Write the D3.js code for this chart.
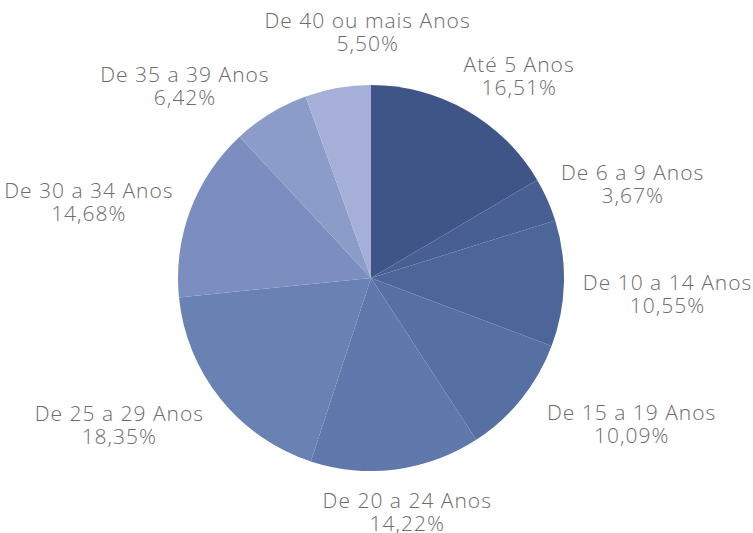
<!DOCTYPE html>
<html>
<head>
<meta charset="utf-8">
<script src="https://cdn.jsdelivr.net/npm/d3@7"></script>
<style>
  html, body { margin: 0; padding: 0; background: #fff; }
  svg text { font-family: "Open Sans", sans-serif; font-weight: 300; fill: #6c6c6c; letter-spacing: 1px; }
</style>
</head>
<body>
<svg id="chart" width="753" height="533"></svg>
<script>
const labels = [
  "Até 5 Anos", "De 6 a 9 Anos", "De 10 a 14 Anos", "De 15 a 19 Anos",
  "De 20 a 24 Anos", "De 25 a 29 Anos", "De 30 a 34 Anos",
  "De 35 a 39 Anos", "De 40 ou mais Anos"
];
const values = [16.51, 3.67, 10.55, 10.09, 14.22, 18.35, 14.68, 6.42, 5.50];
const colors = [
  "#3f5588", "#485f93", "#4d6699", "#5670a3", "#6078ac",
  "#6a81b4", "#7b8ebf", "#8c9cc9", "#a6afd8"
];

const width = 753, height = 533;
const cx = 371, cy = 278, radius = 193;

const data = labels.map((label, i) => ({ label, value: values[i], color: colors[i] }));

const svg = d3.select("#chart");
const g = svg.append("g").attr("transform", `translate(${cx},${cy})`);

const pie = d3.pie().sort(null).value((d) => d.value);
const arc = d3.arc().innerRadius(0).outerRadius(radius);
const arcs = pie(data);

g.selectAll("path")
  .data(arcs)
  .join("path")
  .attr("d", arc)
  .attr("fill", (d) => d.data.color);

// labels: anchor point just outside the pie, text block pushed outward,
// then small hand nudges so they sit where the original has them
const fmt = (v) => v.toFixed(2).replace(".", ",") + "%";
const labelR = radius + 26;
const lineH = 23;
const nudge = [
  [12, 10], [-4, 5], [-7, 8], [24, -8], [-3, -9],
  [-15, -7], [2, 10], [-28, 16], [52, -6]
];

arcs.forEach((d, i) => {
  const a = (d.startAngle + d.endAngle) / 2;
  const px = Math.sin(a) * labelR;
  const py = -Math.cos(a) * labelR;
  const t = g.append("text").attr("font-size", 21).attr("text-anchor", "middle");
  t.append("tspan").attr("x", 0).attr("dy", 0).text(d.data.label);
  t.append("tspan").attr("x", 0).attr("dy", lineH).text(fmt(d.data.value));
  const bb = t.node().getBBox();
  const ox = px + Math.sin(a) * bb.width / 2 + nudge[i][0];
  const oy = py - Math.cos(a) * bb.height / 2 - (bb.y + bb.height / 2) + nudge[i][1];
  t.attr("transform", `translate(${ox},${oy})`);
});
</script>
</body>
</html>
